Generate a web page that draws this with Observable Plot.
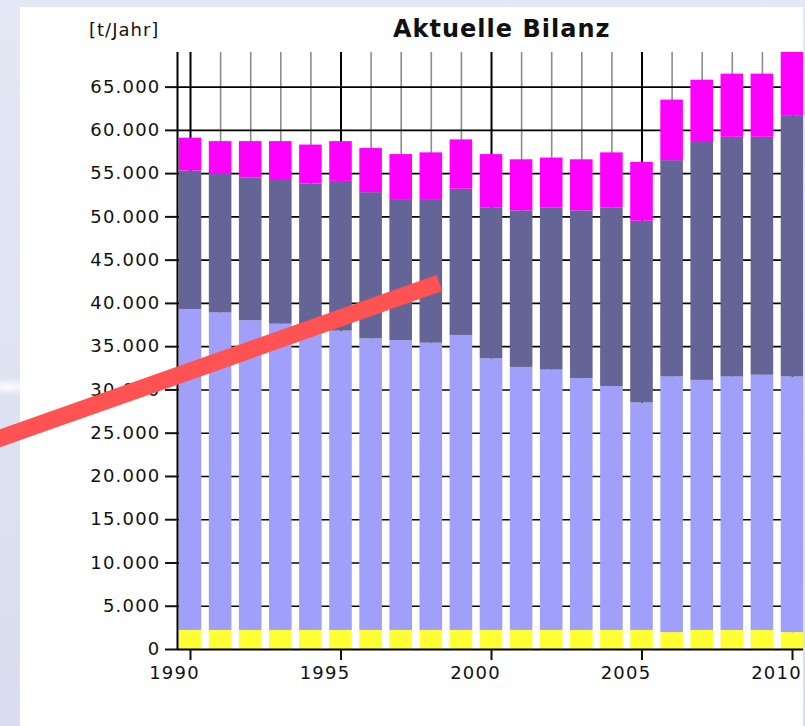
<!DOCTYPE html>
<html>
<head>
<meta charset="utf-8">
<script src="https://cdn.jsdelivr.net/npm/d3@7"></script>
<script src="https://cdn.jsdelivr.net/npm/@observablehq/plot@0.6"></script>
<style>
html, body { margin: 0; padding: 0; }
body {
  width: 805px; height: 726px; position: relative; overflow: hidden;
  background: linear-gradient(#e4e7f4, #d8deef);
  font-family: "DejaVu Sans", sans-serif;
}
#streak { position: absolute; left: 0; top: 355px; width: 22px; height: 70px;
  background: radial-gradient(ellipse 30px 9px at 8px 32px, rgba(255,255,255,0.95), rgba(255,255,255,0)); }
#panel { position: absolute; left: 20px; top: 7px; width: 783px; height: 719px; background: #fff; }
#chart { position: absolute; left: 0; top: 0; width: 803px; height: 726px; overflow: hidden; }
#head { position: absolute; left: 0; top: 0; }
</style>
</head>
<body>
<div id="streak"></div>
<div id="panel"></div>
<svg id="head" width="805" height="50">
  <text x="89" y="36" font-size="18" letter-spacing="1" fill="#111">[t/Jahr]</text>
  <text x="393" y="37" font-size="24" font-weight="bold" letter-spacing="1" fill="#111">Aktuelle Bilanz</text>
</svg>
<div id="chart"></div>
<script>
// ---- data (t/Jahr) ----
const years = [1990,1991,1992,1993,1994,1995,1996,1997,1998,1999,2000,2001,2002,2003,2004,2005,2006,2007,2008,2009,2010];
const seriesNames = ["gelb", "hellblau", "dunkelblau", "magenta"];
const seriesColors = ["#ffff33", "#a0a0fb", "#646496", "#ff00ff"];
const yellowValues  = [2200,2200,2200,2200,2200,2200,2200,2200,2200,2200,2200,2200,2200,2200,2200,2200,1950,2200,2200,2200,1950];
const lightValues   = [37100,36700,35800,35400,35000,34600,33700,33500,33200,34100,31400,30400,30100,29100,28200,26300,29550,28900,29300,29500,29550];
const darkValues    = [16000,16000,16500,16600,16600,17300,16900,16300,16600,16900,17400,18100,18700,19400,20600,21000,25000,27500,27700,27500,30200];
const magentaValues = [3800,3800,4200,4500,4500,4600,5100,5200,5400,5700,6200,5900,5800,5900,6400,6800,7000,7200,7300,7300,7300];
const yTickValues = [0,5000,10000,15000,20000,25000,30000,35000,40000,45000,50000,55000,60000,65000];
const xMajorYears = [1990,1995,2000,2005,2010];
const xMinorYears = years.filter(y => !xMajorYears.includes(y));
// red annotation stroke, in data coordinates
const annotX = [1983.5, 1998.27];
const annotY = [24200, 42350];

// ---- build tables ----
const valueLists = [yellowValues, lightValues, darkValues, magentaValues];
const rows = [];
years.forEach((yr, i) => seriesNames.forEach((name, k) => rows.push({year: yr, comp: name, value: valueLists[k][i]})));
const annot = annotX.map((x, i) => ({x, y: annotY[i]}));

const xDomain = [1989.568, 2010.365];
const yDomain = [0, 69000];
const half = 0.375;
const fmtDE = d => d3.format(",")(d).replace(/,/g, ".");

const chart = Plot.plot({
  width: 803,
  height: 726,
  marginLeft: 177,
  marginRight: 0,
  marginTop: 52,
  marginBottom: 77,
  style: {background: "transparent", fontFamily: "DejaVu Sans", fontSize: "18px", letterSpacing: "1.2px", color: "#111", overflow: "hidden"},
  x: {type: "linear", domain: xDomain},
  y: {domain: yDomain},
  color: {domain: seriesNames, range: seriesColors},
  marks: [
    Plot.ruleX(xMinorYears, {stroke: "#8c8c8c", strokeWidth: 1.6}),
    Plot.ruleX(xMajorYears, {stroke: "#000", strokeWidth: 2}),
    Plot.ruleY(yTickValues.filter(v => v > 0), {stroke: "#000", strokeWidth: 1.6}),
    Plot.rectY(rows, Plot.stackY({
      x1: d => d.year - half,
      x2: d => d.year + half,
      y: "value",
      fill: "comp",
      clip: true
    })),
    Plot.ruleX([xDomain[0]], {stroke: "#000", strokeWidth: 2}),
    Plot.ruleY([0], {stroke: "#000", strokeWidth: 2}),
    Plot.axisY(yTickValues, {anchor: "left", tickSize: 12, tickPadding: 5, tickFormat: fmtDE, fontSize: 18, strokeWidth: 2, label: null, color: "#111"}),
    Plot.axisX(xMajorYears, {anchor: "bottom", tickSize: 11, tickFormat: () => "", strokeWidth: 2, label: null, color: "#111"}),
    Plot.axisX(xMajorYears, {anchor: "bottom", tickSize: 0, tickPadding: 17, dx: -16, tickFormat: d => String(d), fontSize: 18, label: null, color: "#111"}),
    Plot.line(annot, {x: "x", y: "y", stroke: "#ff5252", strokeWidth: 17, strokeLinecap: "butt", clip: false})
  ]
});
document.getElementById("chart").appendChild(chart);
</script>
</body>
</html>
